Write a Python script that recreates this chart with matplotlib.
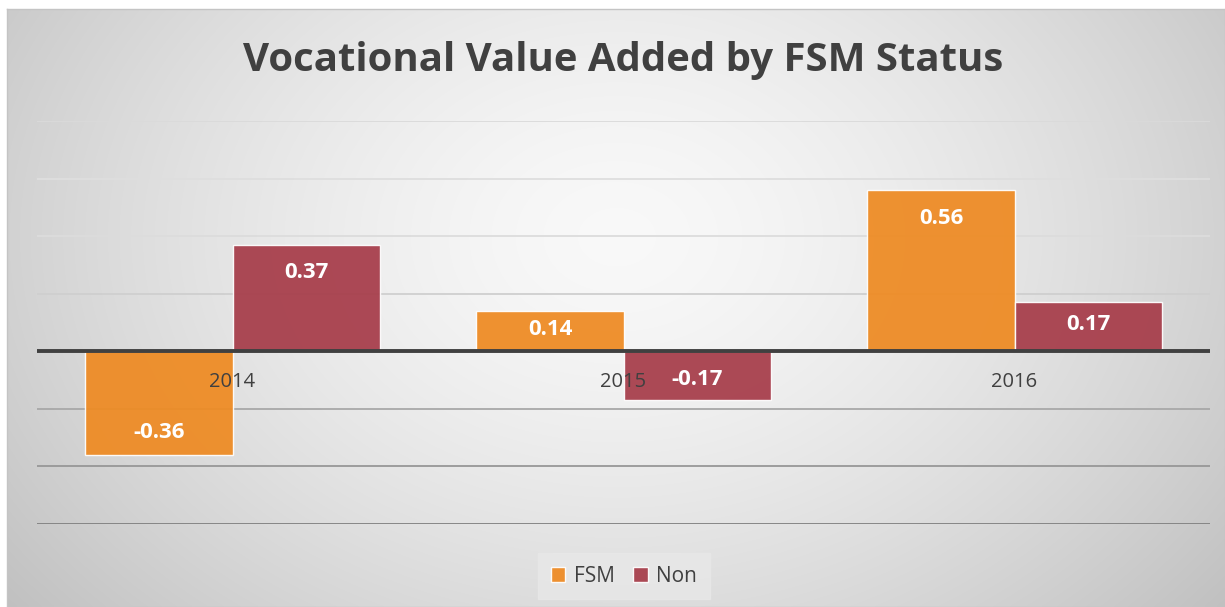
import numpy as np
import matplotlib
matplotlib.use("Agg")
import matplotlib.pyplot as plt

categories = ["2014", "2015", "2016"]
fsm = [-0.36, 0.14, 0.56]
non = [0.37, -0.17, 0.17]
series_names = ["FSM", "Non"]
title = "Vocational Value Added by FSM Status"

W, H = 1225, 607
fig = plt.figure(figsize=(W / 100, H / 100), dpi=100)
fig.patch.set_facecolor("white")

# background gradient panel
bg = fig.add_axes([7 / W, 0, 1 - 7 / W, 598 / H], zorder=0)
ny, nx = 300, 600
yy, xx = np.mgrid[0:ny, 0:nx]
cx, cy = 0.50 * nx, 0.38 * ny
r = np.sqrt(((xx - cx) / (0.62 * nx)) ** 2 + ((yy - cy) / (0.95 * ny)) ** 2)
val = 0.975 - 0.21 * np.clip(r, 0, 1.3) ** 1.5
bg.imshow(np.dstack([val, val, val]), aspect="auto", extent=[0, 1, 0, 1],
          interpolation="bilinear", origin="upper")
bg.set_xlim(0, 1)
bg.set_ylim(0, 1)
for s in bg.spines.values():
    s.set_color("#c4c4c4")
    s.set_linewidth(1.0)
bg.set_xticks([])
bg.set_yticks([])

ax_h_px = 524 - 121
ax = fig.add_axes([37 / W, (H - 524) / H, (1210 - 37) / W, ax_h_px / H], zorder=1)
ax.patch.set_alpha(0)
ax.set_xlim(-0.5, 2.5)
ax.set_ylim(-0.6, 0.8)
for s in ax.spines.values():
    s.set_visible(False)
ax.set_xticks([])
ax.set_yticks([])
px_per_unit = ax_h_px / 1.4

grid_vals = [0.8, 0.6, 0.4, 0.2, -0.2, -0.4, -0.6]
grid_cols = ["#dadada", "#dedede", "#dcdcdc", "#cfcfcf", "#a8a8a8", "#979797", "#808080"]
for gv, gc in zip(grid_vals, grid_cols):
    ax.axhline(gv, color=gc, lw=1.3, zorder=1)

x = np.arange(len(categories))
bw = 0.376
b1 = ax.bar(x - bw / 2, fsm, bw, color="#ee8b24", alpha=0.94, edgecolor=(1, 1, 1, 0.55),
            linewidth=1.0, zorder=3, label=series_names[0])
b2 = ax.bar(x + bw / 2, non, bw, color="#a73e4b", alpha=0.94, edgecolor=(1, 1, 1, 0.55),
            linewidth=1.0, zorder=3, label=series_names[1])
ax.axhline(0, color="#404040", lw=2.8, zorder=4)

for xi, c in zip(x, categories):
    ax.text(xi, -0.108, c, ha="center", va="center", fontsize=14.5,
            color="#404040", family="Open Sans", zorder=4.5)

for bars, vals in ((b1, fsm), (b2, non)):
    for rect, v in zip(bars, vals):
        cxp = rect.get_x() + rect.get_width() / 2
        hpx = abs(v) * px_per_unit
        if v >= 0:
            off = min(28, hpx * 0.45)
            ypos = v - off / px_per_unit
        else:
            off = min(22, hpx * 0.42)
            ypos = v + off / px_per_unit
        ax.text(cxp, ypos, f"{v:.2f}", ha="center", va="center", fontsize=16,
                fontweight="bold", color="white", family="Open Sans", zorder=5)

fig.text(623 / W, 1 - 61 / H, title, ha="center", va="center", fontsize=28.9,
         fontweight="bold", color="#404040", family="Open Sans")

leg = fig.legend(loc="center", bbox_to_anchor=(624 / W, 1 - 576 / H), ncol=2,
                 frameon=True, handlelength=0.7, handleheight=0.7,
                 handletextpad=0.4, columnspacing=0.9, borderpad=0.6,
                 prop={"family": "Open Sans", "size": 15})
leg.get_frame().set_facecolor("#e8e8e8")
leg.get_frame().set_edgecolor("#e8e8e8")
leg.get_frame().set_alpha(0.8)
leg.get_frame().set_boxstyle("square", pad=0)
for t in leg.get_texts():
    t.set_color("#404040")

fig.savefig("out.png", dpi=100)
